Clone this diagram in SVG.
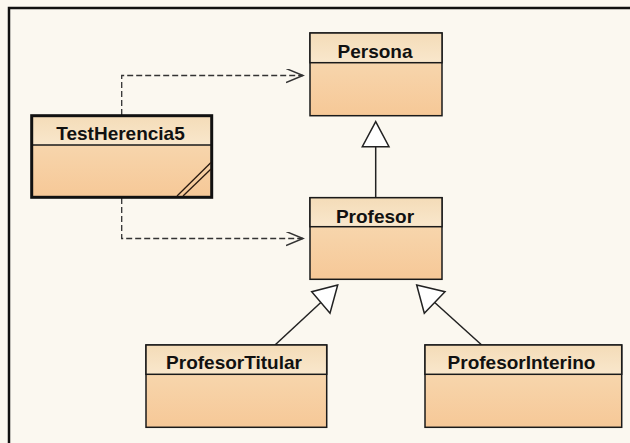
<svg xmlns="http://www.w3.org/2000/svg" width="630" height="443" viewBox="0 0 630 443">
<defs>
<linearGradient id="body" x1="0" y1="0" x2="0" y2="1">
<stop offset="0" stop-color="#F8DDB8"/>
<stop offset="1" stop-color="#F6C897"/>
</linearGradient>
<linearGradient id="head" x1="0" y1="0" x2="0" y2="1">
<stop offset="0" stop-color="#F4DCB8"/>
<stop offset="1" stop-color="#F9E7CC"/>
</linearGradient>
<marker id="open" markerWidth="20" markerHeight="16" refX="17" refY="7" orient="auto" markerUnits="userSpaceOnUse">
<path d="M0,0 L17,7 L0,14" fill="none" stroke="#333" stroke-width="1.5"/>
</marker>
</defs>
<style>
.hd{fill:url(#head);stroke:#1a1a1a;stroke-width:1.5}
.bd{fill:url(#body);stroke:#1a1a1a;stroke-width:1.5}
.t{font-family:"Liberation Sans",Arial,sans-serif;font-weight:bold;font-size:19px;fill:#111;text-anchor:middle}
.dash{fill:none;stroke:#333;stroke-width:1.3;stroke-dasharray:6,3}
.gen{fill:none;stroke:#222;stroke-width:1.5}
.tri{fill:#fff;stroke:#222;stroke-width:1.5;stroke-linejoin:miter}
</style>
<rect x="0" y="0" width="630" height="443" fill="#FBF8F0"/>
<path d="M9,443 L9,8 L630,8" fill="none" stroke="#111" stroke-width="2.5"/>

<g id="connectors">
<path class="dash" d="M121.7,115 L121.7,75.5 L303,75.5" marker-end="url(#open)"/>
<path class="dash" d="M121.7,198 L121.7,238.5 L303,238.5" marker-end="url(#open)"/>
<line class="gen" x1="375.7" y1="146.7" x2="375.7" y2="197.7"/>
<polygon class="tri" points="375.7,121.7 362.3,146.7 389,146.7"/>
<line class="gen" x1="275" y1="345" x2="320.8" y2="302.5"/>
<polygon class="tri" points="337.7,285 311.7,291.7 330,313.3"/>
<line class="gen" x1="481.7" y1="345" x2="434.7" y2="302.5"/>
<polygon class="tri" points="416.7,285 445,291.7 424.3,313.3"/>
</g>

<g id="Persona">
<rect class="bd" x="310" y="33" width="132" height="82.7"/>
<rect class="hd" x="310" y="33" width="132" height="29.7"/>
<text class="t" x="375" y="58">Persona</text>
</g>

<g id="TestHerencia5">
<rect x="31.7" y="115.7" width="180" height="81.6" fill="url(#body)"/>
<rect x="31.7" y="115.7" width="180" height="29.3" fill="url(#head)"/>
<line x1="31.7" y1="145" x2="211.7" y2="145" stroke="#1a1a1a" stroke-width="1.5"/>
<rect x="31.7" y="115.7" width="180" height="81.6" fill="none" stroke="#111" stroke-width="3"/>
<line x1="177" y1="196" x2="211" y2="162.5" stroke="#2a1a10" stroke-width="1.3"/>
<line x1="183" y1="196" x2="211" y2="169" stroke="#2a1a10" stroke-width="1.3"/>
<text class="t" x="120.5" y="140">TestHerencia5</text>
</g>

<g id="Profesor">
<rect class="bd" x="310" y="197.7" width="132" height="81.6"/>
<rect class="hd" x="310" y="197.7" width="132" height="29"/>
<text class="t" x="375" y="222.5">Profesor</text>
</g>

<g id="ProfesorTitular">
<rect class="bd" x="146" y="345" width="180.7" height="82.3"/>
<rect class="hd" x="146" y="345" width="180.7" height="29.3"/>
<text class="t" x="234" y="368.5">ProfesorTitular</text>
</g>

<g id="ProfesorInterino">
<rect class="bd" x="425" y="345" width="196.7" height="82.3"/>
<rect class="hd" x="425" y="345" width="196.7" height="29.3"/>
<text class="t" x="521.5" y="368.5">ProfesorInterino</text>
</g>
</svg>
